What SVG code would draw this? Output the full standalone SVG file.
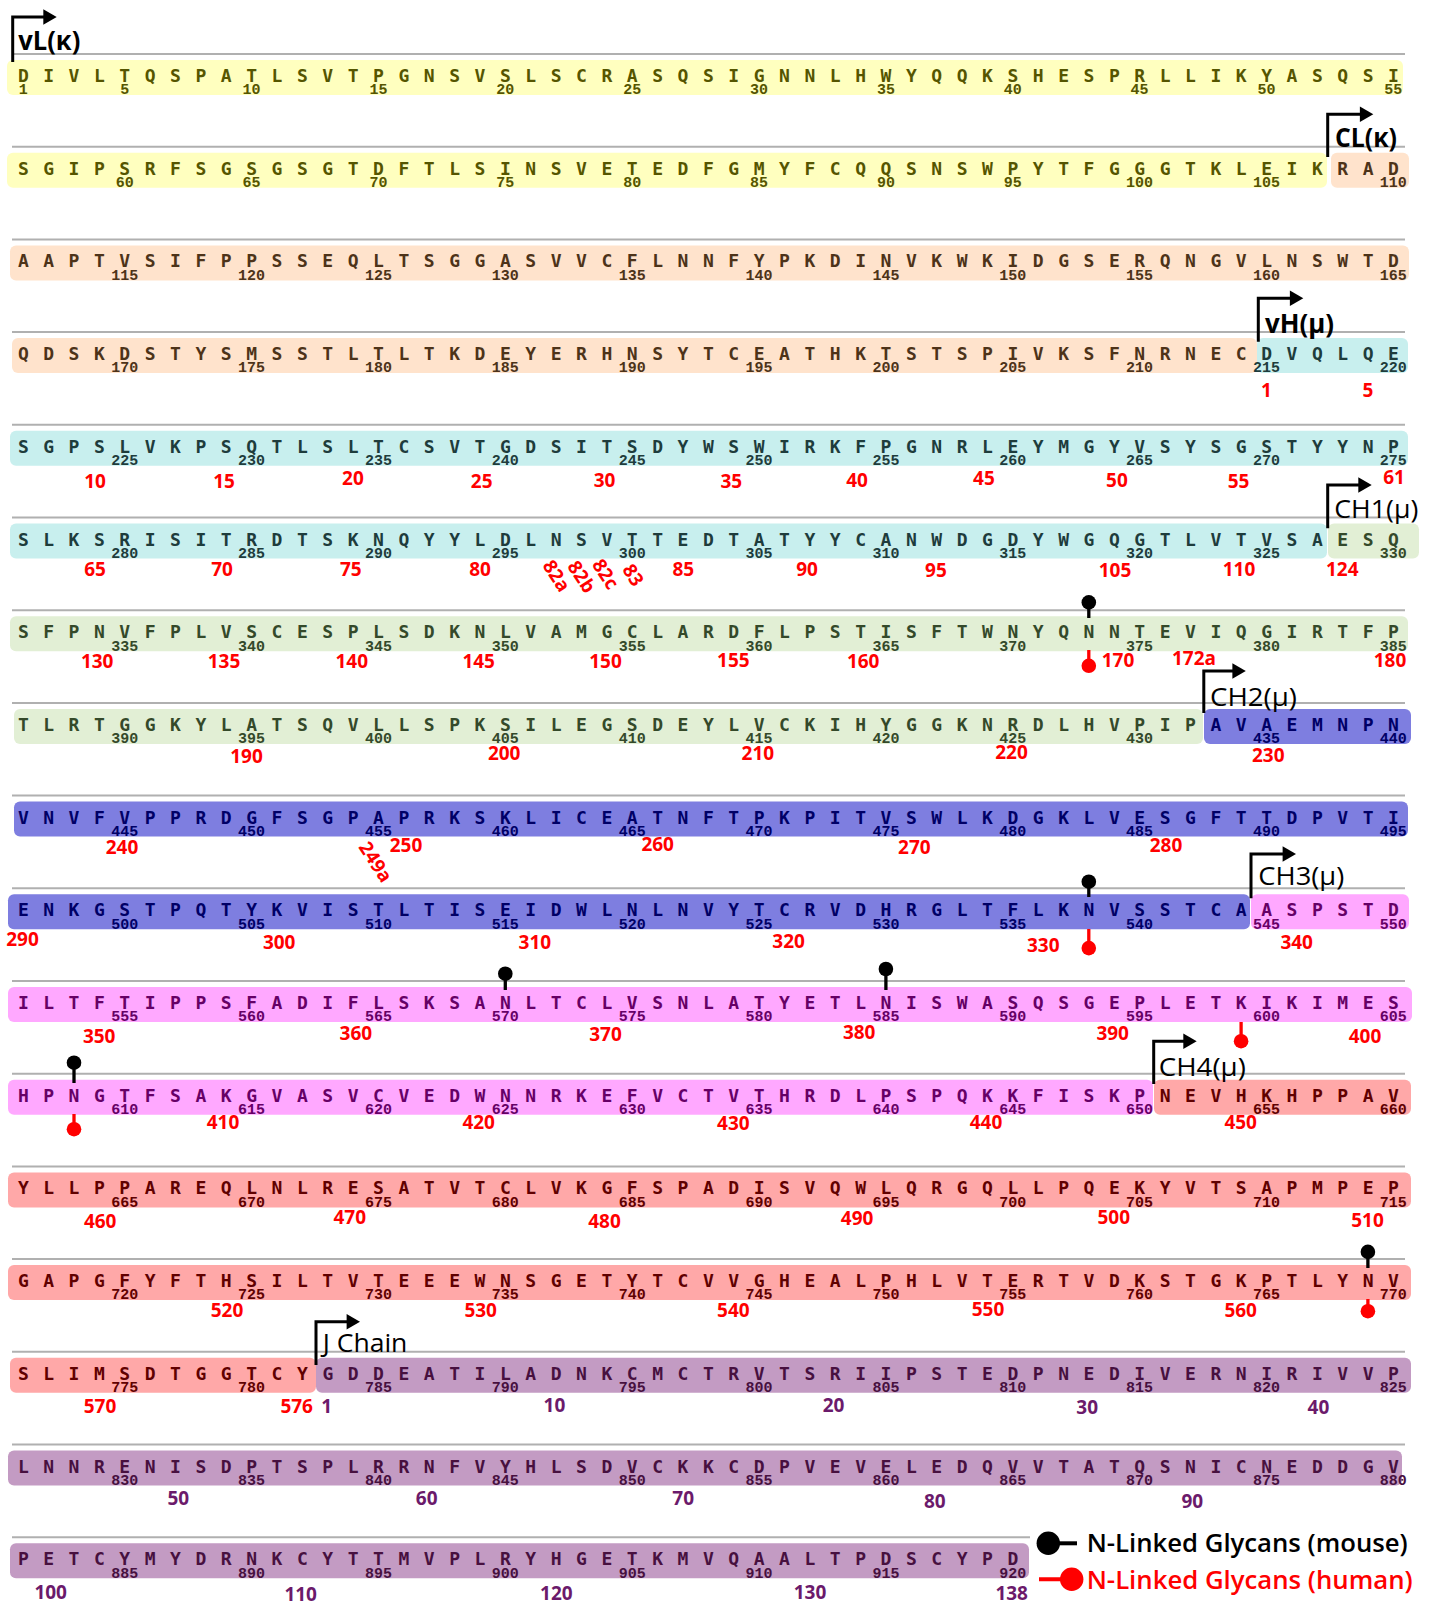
<svg xmlns="http://www.w3.org/2000/svg" width="1434" height="1604" viewBox="0 0 1434 1604">
<style>
.seq{font-family:"DejaVu Sans Mono","Liberation Mono",monospace;font-weight:bold;font-size:18px;letter-spacing:1.85px}
.num{font-family:"Liberation Mono","DejaVu Sans Mono",monospace;font-weight:bold;font-size:15px;text-anchor:middle}
.red{font-family:"Open Sans","Liberation Sans",sans-serif;font-weight:bold;font-size:19px;fill:#ff0000;text-anchor:middle}
.jn{fill:#6b1a6b}
.lbl{font-family:"Open Sans","Liberation Sans",sans-serif;font-size:26px;fill:#000}
.lb{font-weight:bold}
.gl{stroke:#b0b0b0;stroke-width:2}
.arr{fill:none;stroke:#000;stroke-width:3}
.bY{fill:#ffffbf}.bP{fill:#ffe3cc}.bT{fill:#c8efee}.bG{fill:#e2efd5}.bB{fill:#7e7ee0}.bK{fill:#ffa8ff}.bS{fill:#ffa8a8}.bV{fill:#c39bc3}
.fY{fill:#555500}.fP{fill:#4d3319}.fT{fill:#1e3c3c}.fG{fill:#34492a}.fB{fill:#000066}.fK{fill:#660066}.fS{fill:#600000}.fV{fill:#47103f}
.pinM{stroke:#000;stroke-width:3.3}
.pinH{stroke:#ff0000;stroke-width:3.3}
</style>
<defs>
<circle id="dotM" r="7.3" fill="#000"/>
<circle id="dotH" r="7.3" fill="#ff0000"/>
</defs>

<g id="bands">
<rect class="bY" x="7" y="60" width="1396" height="35" rx="6"/>
<rect class="bY" x="7" y="152.7" width="1320" height="35" rx="6"/>
<rect class="bP" x="1331" y="152.7" width="78" height="35" rx="6"/>
<rect class="bP" x="10" y="245.4" width="1399" height="35" rx="6"/>
<rect class="bP" x="12" y="338.1" width="1245" height="35" rx="6"/>
<rect class="bT" x="1257" y="338.1" width="151" height="35" rx="6"/>
<rect class="bT" x="10" y="430.8" width="1398" height="35" rx="6"/>
<rect class="bT" x="10" y="523.5" width="1317" height="35" rx="6"/>
<rect class="bG" x="1328" y="523.5" width="91" height="35" rx="6"/>
<rect class="bG" x="10" y="616.2" width="1398" height="35" rx="6"/>
<rect class="bG" x="14" y="708.9" width="1189" height="35" rx="6"/>
<rect class="bB" x="1204" y="708.9" width="207" height="35" rx="6"/>
<rect class="bB" x="14" y="801.6" width="1394" height="35" rx="6"/>
<rect class="bB" x="8" y="894.3" width="1242" height="35" rx="6"/>
<rect class="bK" x="1251" y="894.3" width="158" height="35" rx="6"/>
<rect class="bK" x="8" y="987" width="1404" height="35" rx="6"/>
<rect class="bK" x="8" y="1079.7" width="1145" height="35" rx="6"/>
<rect class="bS" x="1154" y="1079.7" width="257" height="35" rx="6"/>
<rect class="bS" x="8" y="1172.4" width="1403" height="35" rx="6"/>
<rect class="bS" x="8" y="1265.1" width="1403" height="35" rx="6"/>
<rect class="bS" x="10" y="1357.8" width="306" height="35" rx="6"/>
<rect class="bV" x="316" y="1357.8" width="1095" height="35" rx="6"/>
<rect class="bV" x="8" y="1450.5" width="1394" height="35" rx="6"/>
<rect class="bV" x="10" y="1543.2" width="1019" height="35" rx="6"/>
</g>

<g id="rules">
<line class="gl" x1="12" y1="54" x2="1405" y2="54"/>
<line class="gl" x1="12" y1="146.7" x2="1405" y2="146.7"/>
<line class="gl" x1="12" y1="239.4" x2="1405" y2="239.4"/>
<line class="gl" x1="12" y1="332.1" x2="1405" y2="332.1"/>
<line class="gl" x1="12" y1="424.8" x2="1405" y2="424.8"/>
<line class="gl" x1="12" y1="517.5" x2="1405" y2="517.5"/>
<line class="gl" x1="12" y1="610.2" x2="1405" y2="610.2"/>
<line class="gl" x1="12" y1="702.9" x2="1405" y2="702.9"/>
<line class="gl" x1="12" y1="795.6" x2="1405" y2="795.6"/>
<line class="gl" x1="12" y1="888.3" x2="1405" y2="888.3"/>
<line class="gl" x1="12" y1="981" x2="1405" y2="981"/>
<line class="gl" x1="12" y1="1073.7" x2="1405" y2="1073.7"/>
<line class="gl" x1="12" y1="1166.4" x2="1405" y2="1166.4"/>
<line class="gl" x1="12" y1="1259.1" x2="1405" y2="1259.1"/>
<line class="gl" x1="12" y1="1351.8" x2="1405" y2="1351.8"/>
<line class="gl" x1="12" y1="1444.5" x2="1405" y2="1444.5"/>
<line class="gl" x1="12" y1="1537.2" x2="1030" y2="1537.2"/>
</g>

<g id="sequence">
<text class="seq fY" x="17.88" y="82">D I V L T Q S P A T L S V T P G N S V S L S C R A S Q S I G N N L H W Y Q Q K S H E S P R L L I K Y A S Q S I</text>
<text class="seq" x="17.88" y="174.7"><tspan class="fY">S G I P S R F S G S G S G T D F T L S I N S V E T E D F G M Y F C Q Q S N S W P Y T F G G G T K L E I K </tspan><tspan class="fP">R A D</tspan></text>
<text class="seq fP" x="17.88" y="267.4">A A P T V S I F P P S S E Q L T S G G A S V V C F L N N F Y P K D I N V K W K I D G S E R Q N G V L N S W T D</text>
<text class="seq" x="17.88" y="360.1"><tspan class="fP">Q D S K D S T Y S M S S T L T L T K D E Y E R H N S Y T C E A T H K T S T S P I V K S F N R N E C </tspan><tspan class="fT">D V Q L Q E</tspan></text>
<text class="seq fT" x="17.88" y="452.8">S G P S L V K P S Q T L S L T C S V T G D S I T S D Y W S W I R K F P G N R L E Y M G Y V S Y S G S T Y Y N P</text>
<text class="seq" x="17.88" y="545.5"><tspan class="fT">S L K S R I S I T R D T S K N Q Y Y L D L N S V T T E D T A T Y Y C A N W D G D Y W G Q G T L V T V S A </tspan><tspan class="fG">E S Q</tspan></text>
<text class="seq fG" x="17.88" y="638.2">S F P N V F P L V S C E S P L S D K N L V A M G C L A R D F L P S T I S F T W N Y Q N N T E V I Q G I R T F P</text>
<text class="seq" x="17.88" y="730.9"><tspan class="fG">T L R T G G K Y L A T S Q V L L S P K S I L E G S D E Y L V C K I H Y G G K N R D L H V P I P </tspan><tspan class="fB">A V A E M N P N</tspan></text>
<text class="seq fB" x="17.88" y="823.6">V N V F V P P R D G F S G P A P R K S K L I C E A T N F T P K P I T V S W L K D G K L V E S G F T T D P V T I</text>
<text class="seq" x="17.88" y="916.3"><tspan class="fB">E N K G S T P Q T Y K V I S T L T I S E I D W L N L N V Y T C R V D H R G L T F L K N V S S T C A </tspan><tspan class="fK">A S P S T D</tspan></text>
<text class="seq fK" x="17.88" y="1009">I L T F T I P P S F A D I F L S K S A N L T C L V S N L A T Y E T L N I S W A S Q S G E P L E T K I K I M E S</text>
<text class="seq" x="17.88" y="1101.7"><tspan class="fK">H P N G T F S A K G V A S V C V E D W N N R K E F V C T V T H R D L P S P Q K K F I S K P </tspan><tspan class="fS">N E V H K H P P A V</tspan></text>
<text class="seq fS" x="17.88" y="1194.4">Y L L P P A R E Q L N L R E S A T V T C L V K G F S P A D I S V Q W L Q R G Q L L P Q E K Y V T S A P M P E P</text>
<text class="seq fS" x="17.88" y="1287.1">G A P G F Y F T H S I L T V T E E E W N S G E T Y T C V V G H E A L P H L V T E R T V D K S T G K P T L Y N V</text>
<text class="seq" x="17.88" y="1379.8"><tspan class="fS">S L I M S D T G G T C Y </tspan><tspan class="fV">G D D E A T I L A D N K C M C T R V T S R I I P S T E D P N E D I V E R N I R I V V P</tspan></text>
<text class="seq fV" x="17.88" y="1472.5">L N N R E N I S D P T S P L R R N F V Y H L S D V C K K C D P V E V E L E D Q V V T A T Q S N I C N E D D G V</text>
<text class="seq fV" x="17.88" y="1565.2">P E T C Y M Y D R N K C Y T T M V P L R Y H G E T K M V Q A A L T P D S C Y P D</text>
</g>

<g id="residue-numbers">
<text class="num fY" y="94.3"><tspan x="23.3">1</tspan><tspan x="124.8">5</tspan><tspan x="251.6">10</tspan><tspan x="378.5">15</tspan><tspan x="505.3">20</tspan><tspan x="632.2">25</tspan><tspan x="759">30</tspan><tspan x="885.9">35</tspan><tspan x="1012.7">40</tspan><tspan x="1139.6">45</tspan><tspan x="1266.4">50</tspan><tspan x="1393.3">55</tspan></text>
<text class="num fY" y="187"><tspan x="124.8">60</tspan><tspan x="251.6">65</tspan><tspan x="378.5">70</tspan><tspan x="505.3">75</tspan><tspan x="632.2">80</tspan><tspan x="759">85</tspan><tspan x="885.9">90</tspan><tspan x="1012.7">95</tspan><tspan x="1139.6">100</tspan><tspan x="1266.4">105</tspan><tspan x="1393.3" class="fP">110</tspan></text>
<text class="num fP" y="279.7"><tspan x="124.8">115</tspan><tspan x="251.6">120</tspan><tspan x="378.5">125</tspan><tspan x="505.3">130</tspan><tspan x="632.2">135</tspan><tspan x="759">140</tspan><tspan x="885.9">145</tspan><tspan x="1012.7">150</tspan><tspan x="1139.6">155</tspan><tspan x="1266.4">160</tspan><tspan x="1393.3">165</tspan></text>
<text class="num fP" y="372.4"><tspan x="124.8">170</tspan><tspan x="251.6">175</tspan><tspan x="378.5">180</tspan><tspan x="505.3">185</tspan><tspan x="632.2">190</tspan><tspan x="759">195</tspan><tspan x="885.9">200</tspan><tspan x="1012.7">205</tspan><tspan x="1139.6">210</tspan><tspan x="1266.4" class="fT">215</tspan><tspan x="1393.3" class="fT">220</tspan></text>
<text class="num fT" y="465.1"><tspan x="124.8">225</tspan><tspan x="251.6">230</tspan><tspan x="378.5">235</tspan><tspan x="505.3">240</tspan><tspan x="632.2">245</tspan><tspan x="759">250</tspan><tspan x="885.9">255</tspan><tspan x="1012.7">260</tspan><tspan x="1139.6">265</tspan><tspan x="1266.4">270</tspan><tspan x="1393.3">275</tspan></text>
<text class="num fT" y="557.8"><tspan x="124.8">280</tspan><tspan x="251.6">285</tspan><tspan x="378.5">290</tspan><tspan x="505.3">295</tspan><tspan x="632.2">300</tspan><tspan x="759">305</tspan><tspan x="885.9">310</tspan><tspan x="1012.7">315</tspan><tspan x="1139.6">320</tspan><tspan x="1266.4">325</tspan><tspan x="1393.3" class="fG">330</tspan></text>
<text class="num fG" y="650.5"><tspan x="124.8">335</tspan><tspan x="251.6">340</tspan><tspan x="378.5">345</tspan><tspan x="505.3">350</tspan><tspan x="632.2">355</tspan><tspan x="759">360</tspan><tspan x="885.9">365</tspan><tspan x="1012.7">370</tspan><tspan x="1139.6">375</tspan><tspan x="1266.4">380</tspan><tspan x="1393.3">385</tspan></text>
<text class="num fG" y="743.2"><tspan x="124.8">390</tspan><tspan x="251.6">395</tspan><tspan x="378.5">400</tspan><tspan x="505.3">405</tspan><tspan x="632.2">410</tspan><tspan x="759">415</tspan><tspan x="885.9">420</tspan><tspan x="1012.7">425</tspan><tspan x="1139.6">430</tspan><tspan x="1266.4" class="fB">435</tspan><tspan x="1393.3" class="fB">440</tspan></text>
<text class="num fB" y="835.9"><tspan x="124.8">445</tspan><tspan x="251.6">450</tspan><tspan x="378.5">455</tspan><tspan x="505.3">460</tspan><tspan x="632.2">465</tspan><tspan x="759">470</tspan><tspan x="885.9">475</tspan><tspan x="1012.7">480</tspan><tspan x="1139.6">485</tspan><tspan x="1266.4">490</tspan><tspan x="1393.3">495</tspan></text>
<text class="num fB" y="928.6"><tspan x="124.8">500</tspan><tspan x="251.6">505</tspan><tspan x="378.5">510</tspan><tspan x="505.3">515</tspan><tspan x="632.2">520</tspan><tspan x="759">525</tspan><tspan x="885.9">530</tspan><tspan x="1012.7">535</tspan><tspan x="1139.6">540</tspan><tspan x="1266.4" class="fK">545</tspan><tspan x="1393.3" class="fK">550</tspan></text>
<text class="num fK" y="1021.3"><tspan x="124.8">555</tspan><tspan x="251.6">560</tspan><tspan x="378.5">565</tspan><tspan x="505.3">570</tspan><tspan x="632.2">575</tspan><tspan x="759">580</tspan><tspan x="885.9">585</tspan><tspan x="1012.7">590</tspan><tspan x="1139.6">595</tspan><tspan x="1266.4">600</tspan><tspan x="1393.3">605</tspan></text>
<text class="num fK" y="1114"><tspan x="124.8">610</tspan><tspan x="251.6">615</tspan><tspan x="378.5">620</tspan><tspan x="505.3">625</tspan><tspan x="632.2">630</tspan><tspan x="759">635</tspan><tspan x="885.9">640</tspan><tspan x="1012.7">645</tspan><tspan x="1139.6">650</tspan><tspan x="1266.4" class="fS">655</tspan><tspan x="1393.3" class="fS">660</tspan></text>
<text class="num fS" y="1206.7"><tspan x="124.8">665</tspan><tspan x="251.6">670</tspan><tspan x="378.5">675</tspan><tspan x="505.3">680</tspan><tspan x="632.2">685</tspan><tspan x="759">690</tspan><tspan x="885.9">695</tspan><tspan x="1012.7">700</tspan><tspan x="1139.6">705</tspan><tspan x="1266.4">710</tspan><tspan x="1393.3">715</tspan></text>
<text class="num fS" y="1299.4"><tspan x="124.8">720</tspan><tspan x="251.6">725</tspan><tspan x="378.5">730</tspan><tspan x="505.3">735</tspan><tspan x="632.2">740</tspan><tspan x="759">745</tspan><tspan x="885.9">750</tspan><tspan x="1012.7">755</tspan><tspan x="1139.6">760</tspan><tspan x="1266.4">765</tspan><tspan x="1393.3">770</tspan></text>
<text class="num fV" y="1392.1"><tspan x="124.8" class="fS">775</tspan><tspan x="251.6" class="fS">780</tspan><tspan x="378.5">785</tspan><tspan x="505.3">790</tspan><tspan x="632.2">795</tspan><tspan x="759">800</tspan><tspan x="885.9">805</tspan><tspan x="1012.7">810</tspan><tspan x="1139.6">815</tspan><tspan x="1266.4">820</tspan><tspan x="1393.3">825</tspan></text>
<text class="num fV" y="1484.8"><tspan x="124.8">830</tspan><tspan x="251.6">835</tspan><tspan x="378.5">840</tspan><tspan x="505.3">845</tspan><tspan x="632.2">850</tspan><tspan x="759">855</tspan><tspan x="885.9">860</tspan><tspan x="1012.7">865</tspan><tspan x="1139.6">870</tspan><tspan x="1266.4">875</tspan><tspan x="1393.3">880</tspan></text>
<text class="num fV" y="1577.5"><tspan x="124.8">885</tspan><tspan x="251.6">890</tspan><tspan x="378.5">895</tspan><tspan x="505.3">900</tspan><tspan x="632.2">905</tspan><tspan x="759">910</tspan><tspan x="885.9">915</tspan><tspan x="1012.7">920</tspan></text>
</g>

<g id="kabat-numbers">
<text class="red" x="1266.4" y="396.6">1</text><text class="red" x="1367.9" y="396.6">5</text>
<text class="red" x="95.1" y="487.6">10</text><text class="red" x="224" y="487.6">15</text><text class="red" x="352.9" y="484.5">20</text><text class="red" x="481.7" y="487.6">25</text><text class="red" x="604.5" y="486.6">30</text><text class="red" x="731.3" y="487.6">35</text><text class="red" x="857.1" y="486.6">40</text><text class="red" x="983.9" y="484.5">45</text><text class="red" x="1116.9" y="486.6">50</text><text class="red" x="1238.6" y="487.6">55</text><text class="red" x="1394" y="483.5">61</text>
<text class="red" x="95.1" y="575.6">65</text><text class="red" x="222" y="576">70</text><text class="red" x="350.8" y="576">75</text><text class="red" x="480" y="576">80</text><text class="red" x="683.3" y="576">85</text><text class="red" x="807" y="576">90</text><text class="red" x="935.9" y="577">95</text><text class="red" x="1115" y="577">105</text><text class="red" x="1239" y="576">110</text><text class="red" x="1342.3" y="575.7">124</text>
<text class="red" transform="translate(556.7,575.7) rotate(57)" y="6.8">82a</text>
<text class="red" transform="translate(581.7,576.7) rotate(57)" y="6.8">82b</text>
<text class="red" transform="translate(605.7,574) rotate(57)" y="6.8">82c</text>
<text class="red" transform="translate(633.3,575) rotate(57)" y="6.8">83</text>
<text class="red" x="97.2" y="667.6">130</text><text class="red" x="224" y="667.6">135</text><text class="red" x="351.8" y="667.6">140</text><text class="red" x="478.7" y="667.6">145</text><text class="red" x="605.5" y="667.6">150</text><text class="red" x="733.4" y="666.5">155</text><text class="red" x="863.2" y="667.6">160</text><text class="red" x="1118" y="666.7">170</text><text class="red" x="1194" y="665">172a</text><text class="red" x="1390" y="666.7">180</text>
<text class="red" x="246.5" y="762.7">190</text><text class="red" x="504.2" y="759.7">200</text><text class="red" x="757.9" y="759.7">210</text><text class="red" x="1011.5" y="758.7">220</text><text class="red" x="1268.3" y="761.7">230</text>
<text class="red" x="122" y="854">240</text><text class="red" transform="translate(375.7,861.7) rotate(57)" y="6.8">249a</text><text class="red" x="406" y="851.7">250</text><text class="red" x="657.7" y="850.7">260</text><text class="red" x="914.4" y="853.8">270</text><text class="red" x="1166" y="851.7">280</text>
<text class="red" x="22.5" y="945.8">290</text><text class="red" x="279.2" y="948.9">300</text><text class="red" x="534.9" y="948.9">310</text><text class="red" x="788.6" y="947.9">320</text><text class="red" x="1043.3" y="951.7">330</text><text class="red" x="1296.7" y="949.3">340</text>
<text class="red" x="99.2" y="1043">350</text><text class="red" x="355.9" y="1039.9">360</text><text class="red" x="605.5" y="1041">370</text><text class="red" x="859.2" y="1038.9">380</text><text class="red" x="1112.7" y="1040">390</text><text class="red" x="1365" y="1043.3">400</text>
<text class="red" x="223" y="1128.9">410</text><text class="red" x="478.7" y="1128.9">420</text><text class="red" x="733.4" y="1129.9">430</text><text class="red" x="986" y="1128.9">440</text><text class="red" x="1240.7" y="1128.9">450</text>
<text class="red" x="100.2" y="1228.1">460</text><text class="red" x="349.8" y="1224">470</text><text class="red" x="604.5" y="1228.1">480</text><text class="red" x="857.1" y="1225">490</text><text class="red" x="1113.8" y="1224">500</text><text class="red" x="1367.5" y="1227.1">510</text>
<text class="red" x="227" y="1317.1">520</text><text class="red" x="480.7" y="1317.1">530</text><text class="red" x="733.4" y="1317.1">540</text><text class="red" x="988" y="1316">550</text><text class="red" x="1240.7" y="1317.1">560</text>
<text class="red" x="100" y="1413.3">570</text><text class="red" x="296.7" y="1413.3">576</text>
<text class="red jn" x="326.7" y="1413.3">1</text><text class="red jn" x="554.4" y="1412.3">10</text><text class="red jn" x="833.6" y="1412.3">20</text><text class="red jn" x="1087.2" y="1414.4">30</text><text class="red jn" x="1318.4" y="1414.4">40</text>
<text class="red jn" x="178.3" y="1505">50</text><text class="red jn" x="426.7" y="1505">60</text><text class="red jn" x="683.2" y="1505">70</text><text class="red jn" x="934.8" y="1508.4">80</text><text class="red jn" x="1192.3" y="1508.3">90</text>
<text class="red jn" x="50.7" y="1598.5">100</text><text class="red jn" x="300.7" y="1600.5">110</text><text class="red jn" x="556.4" y="1599.8">120</text><text class="red jn" x="810" y="1599">130</text><text class="red jn" x="1011.7" y="1599.5">138</text>
</g>

<g id="glycans">
<line class="pinM" x1="1088.8" y1="602.4" x2="1088.8" y2="618"/><use href="#dotM" x="1088.8" y="602.4"/>
<line class="pinH" x1="1088.8" y1="650" x2="1088.8" y2="665.8"/><use href="#dotH" x="1088.8" y="665.8"/>
<line class="pinM" x1="1088.8" y1="881.7" x2="1088.8" y2="897"/><use href="#dotM" x="1088.8" y="881.7"/>
<line class="pinH" x1="1088.8" y1="929" x2="1088.8" y2="948.1"/><use href="#dotH" x="1088.8" y="948.1"/>
<line class="pinM" x1="505.3" y1="973.7" x2="505.3" y2="990"/><use href="#dotM" x="505.3" y="973.7"/>
<line class="pinM" x1="885.9" y1="969" x2="885.9" y2="990"/><use href="#dotM" x="885.9" y="969"/>
<line class="pinH" x1="1241.1" y1="1022" x2="1241.1" y2="1041.2"/><use href="#dotH" x="1241.1" y="1041.2"/>
<line class="pinM" x1="74" y1="1062.7" x2="74" y2="1083"/><use href="#dotM" x="74" y="1062.7"/>
<line class="pinH" x1="74" y1="1114" x2="74" y2="1129.2"/><use href="#dotH" x="74" y="1129.2"/>
<line class="pinM" x1="1367.9" y1="1251.9" x2="1367.9" y2="1268"/><use href="#dotM" x="1367.9" y="1251.9"/>
<line class="pinH" x1="1367.9" y1="1299" x2="1367.9" y2="1311.2"/><use href="#dotH" x="1367.9" y="1311.2"/>
</g>

<g id="domain-vL">
<path class="arr" d="M12.7,62 V17 H44"/><polygon points="56.7,17 43.3,9.2 43.3,24.8"/>
<text class="lbl lb" x="18.3" y="50" textLength="62" lengthAdjust="spacingAndGlyphs">vL(κ)</text>
</g>
<g id="domain-CL">
<path class="arr" d="M1327.7,157 V114.3 H1361"/><polygon points="1373.3,114.3 1359.9,106.5 1359.9,122.1"/>
<text class="lbl lb" x="1335" y="147.3" textLength="62" lengthAdjust="spacingAndGlyphs">CL(κ)</text>
</g>
<g id="domain-vH">
<path class="arr" d="M1258.3,341.7 V298.3 H1291"/><polygon points="1303.3,298.3 1289.9,290.5 1289.9,306.1"/>
<text class="lbl lb" x="1265" y="333.3" textLength="69" lengthAdjust="spacingAndGlyphs">vH(μ)</text>
</g>
<g id="domain-CH1">
<path class="arr" d="M1327.7,528.3 V485 H1359"/><polygon points="1371.7,485 1358.3,477.2 1358.3,492.8"/>
<text class="lbl" x="1334.3" y="517.7" textLength="84" lengthAdjust="spacingAndGlyphs">CH1(μ)</text>
</g>
<g id="domain-CH2">
<path class="arr" d="M1203.8,713 V671 H1234"/><polygon points="1245.8,671 1232.4,663.2 1232.4,678.8"/>
<text class="lbl" x="1210" y="705.7" textLength="87" lengthAdjust="spacingAndGlyphs">CH2(μ)</text>
</g>
<g id="domain-CH3">
<path class="arr" d="M1251,898.3 V854 H1284"/><polygon points="1296,854 1282.6,846.2 1282.6,861.8"/>
<text class="lbl" x="1258.3" y="885" textLength="86" lengthAdjust="spacingAndGlyphs">CH3(μ)</text>
</g>
<g id="domain-CH4">
<path class="arr" d="M1153.7,1084 V1041.2 H1184"/><polygon points="1196.7,1041.2 1183.3,1033.4 1183.3,1049"/>
<text class="lbl" x="1158.8" y="1076" textLength="87" lengthAdjust="spacingAndGlyphs">CH4(μ)</text>
</g>
<g id="domain-J">
<path class="arr" d="M316,1365 V1321.7 H348"/><polygon points="360,1321.7 346.6,1313.9 346.6,1329.5"/>
<text class="lbl" x="322.7" y="1351.7" textLength="84.7" lengthAdjust="spacingAndGlyphs">J Chain</text>
</g>

<g id="legend">
<line x1="1048.3" y1="1543.3" x2="1077" y2="1543.3" stroke="#000" stroke-width="4"/>
<circle cx="1048.3" cy="1543.3" r="11.7" fill="#000"/>
<text class="lbl" x="1086.7" y="1551.7" font-weight="600" textLength="321" lengthAdjust="spacingAndGlyphs">N-Linked Glycans (mouse)</text>
<line x1="1039" y1="1579.3" x2="1072" y2="1579.3" stroke="#ff0000" stroke-width="4"/>
<circle cx="1071.7" cy="1579.3" r="11.7" fill="#ff0000"/>
<text class="lbl" x="1086.7" y="1589.3" font-weight="600" style="fill:#ff0000" textLength="326" lengthAdjust="spacingAndGlyphs">N-Linked Glycans (human)</text>
</g>
</svg>
